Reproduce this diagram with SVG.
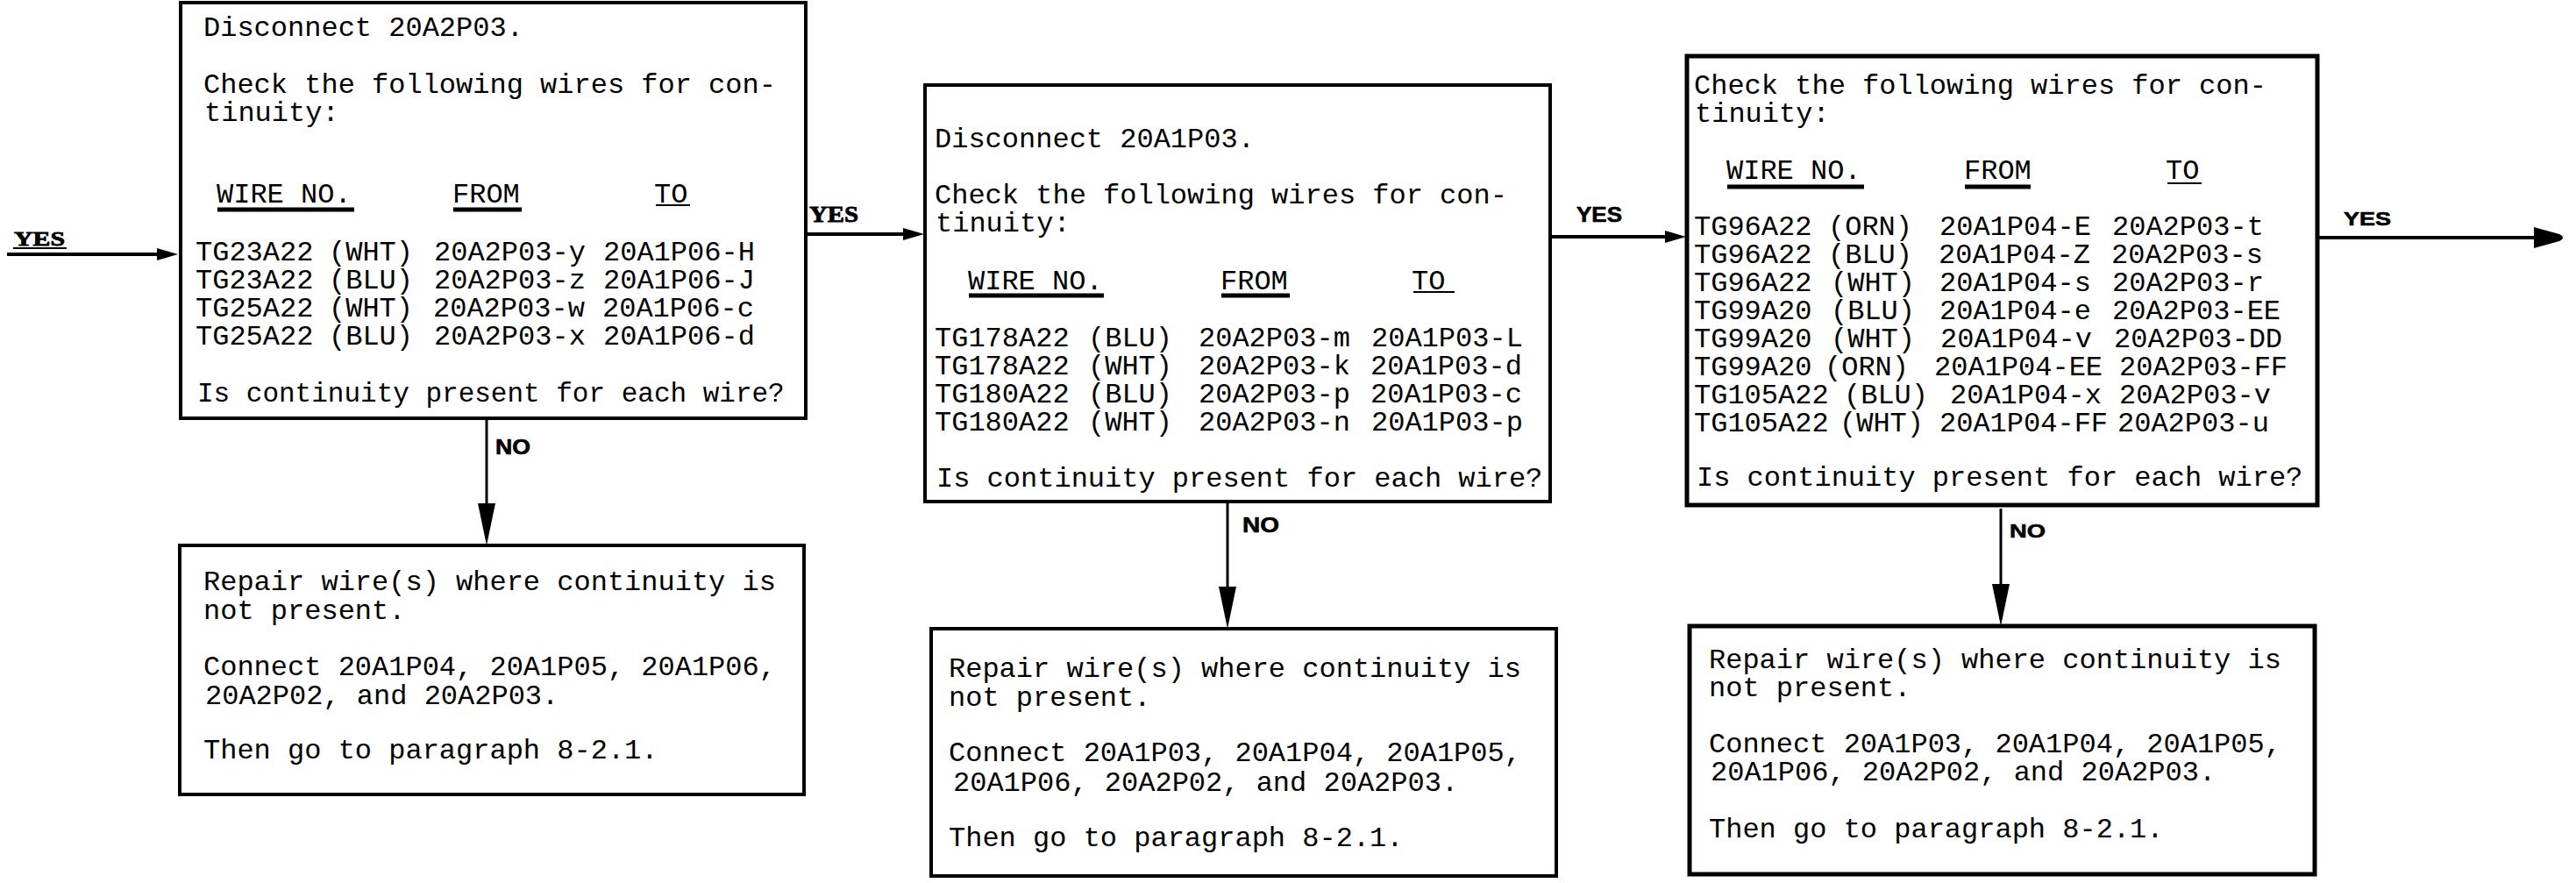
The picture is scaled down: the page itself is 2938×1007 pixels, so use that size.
<svg xmlns="http://www.w3.org/2000/svg" width="2938" height="1007" viewBox="0 0 2938 1007">
<style>
  .bg { fill: #ffffff; }
  .box { fill: #ffffff; stroke: #000000; stroke-width: 4; }
  .boxb { fill: #ffffff; stroke: #000000; stroke-width: 5; }
  .m { font-family: "Liberation Mono", "Courier New", monospace; font-size: 32px; fill: #000000; }
  .ul { stroke: #000000; stroke-width: 5; }
  .ult { stroke: #000000; stroke-width: 2; }
  .conn { fill: none; stroke: #000000; stroke-width: 4; }
  .ys { font-family: "Liberation Serif", "Times New Roman", serif; font-weight: bold; fill: #000000; stroke: #000000; stroke-width: 0.8; }
  .ls { font-family: "Liberation Sans", Arial, sans-serif; font-weight: bold; fill: #000000; stroke: #000000; stroke-width: 0.6; }
</style>
<defs>
  <marker id="ahYes" markerUnits="userSpaceOnUse" markerWidth="30" markerHeight="20" refX="16" refY="7" orient="auto">
    <path d="M0,0 L24,7 L0,14 Z" fill="#000000"/>
  </marker>
  <marker id="ahNo" markerUnits="userSpaceOnUse" markerWidth="50" markerHeight="22" refX="40" refY="10" orient="auto">
    <path d="M0,0 L48,10 L0,20 Z" fill="#000000"/>
  </marker>
  <marker id="ahRound" markerUnits="userSpaceOnUse" markerWidth="42" markerHeight="28" refX="8" refY="12" orient="auto">
    <path d="M0,0 L29,8 Q37,12 29,16 L0,24 Z" fill="#000000"/>
  </marker>
</defs>
<rect class="bg" x="0" y="0" width="2938" height="1007"/>

<g id="connectors">
  <g id="c-entry">
    <line class="conn" x1="8" y1="290" x2="195" y2="290" marker-end="url(#ahYes)"/>
    <text class="ys" x="16" y="280" font-size="23" textLength="58" lengthAdjust="spacingAndGlyphs">YES</text>
    <line class="ult" x1="15" y1="283" x2="76" y2="283"/>
  </g>
  <g id="c-b1-b3">
    <line class="conn" x1="920" y1="267" x2="1046" y2="267" marker-end="url(#ahYes)"/>
    <text class="ys" x="923" y="253" font-size="25" textLength="56" lengthAdjust="spacingAndGlyphs">YES</text>
  </g>
  <g id="c-b3-b5">
    <line class="conn" x1="1770" y1="270" x2="1915" y2="270" marker-end="url(#ahYes)"/>
    <text class="ls" x="1798" y="253" font-size="23" textLength="52" lengthAdjust="spacingAndGlyphs">YES</text>
  </g>
  <g id="c-exit">
    <line class="conn" x1="2645" y1="271" x2="2898" y2="271" marker-end="url(#ahRound)"/>
    <text class="ls" x="2673" y="257" font-size="22" textLength="54" lengthAdjust="spacingAndGlyphs">YES</text>
  </g>
  <g id="c-b1-b2">
    <line class="conn" x1="555" y1="478" x2="555" y2="614" marker-end="url(#ahNo)" style="stroke-width:3"/>
    <text class="ls" x="565" y="518" font-size="23" textLength="40" lengthAdjust="spacingAndGlyphs">NO</text>
  </g>
  <g id="c-b3-b4">
    <line class="conn" x1="1400" y1="573" x2="1400" y2="709" marker-end="url(#ahNo)" style="stroke-width:3"/>
    <text class="ls" x="1417" y="607" font-size="24" textLength="42" lengthAdjust="spacingAndGlyphs">NO</text>
  </g>
  <g id="c-b5-b6">
    <line class="conn" x1="2282" y1="580" x2="2282" y2="706" marker-end="url(#ahNo)" style="stroke-width:3"/>
    <text class="ls" x="2292" y="613" font-size="22" textLength="41" lengthAdjust="spacingAndGlyphs">NO</text>
  </g>
</g>

<g id="b1">
  <rect class="box" x="206" y="3" width="713" height="474"/>
  <text class="m" x="232" y="41">Disconnect 20A2P03.</text>
  <text class="m" x="232" y="106">Check the following wires for con-</text>
  <text class="m" x="233" y="138">tinuity:</text>
  <text class="m" y="231"><tspan x="247">WIRE NO.</tspan><tspan x="516">FROM</tspan><tspan x="746">TO</tspan></text>
  <line class="ul" x1="248" y1="239" x2="404" y2="239"/>
  <line class="ul" x1="517" y1="239" x2="595" y2="239"/>
  <line class="ult" x1="748" y1="234" x2="787" y2="234"/>
  <text class="m" y="297"><tspan x="223">TG23A22</tspan><tspan x="375">(WHT)</tspan><tspan x="495">20A2P03-y</tspan><tspan x="688">20A1P06-H</tspan></text>
  <text class="m" y="329"><tspan x="223">TG23A22</tspan><tspan x="375">(BLU)</tspan><tspan x="495">20A2P03-z</tspan><tspan x="688">20A1P06-J</tspan></text>
  <text class="m" y="361"><tspan x="223">TG25A22</tspan><tspan x="375">(WHT)</tspan><tspan x="494">20A2P03-w</tspan><tspan x="687">20A1P06-c</tspan></text>
  <text class="m" y="393"><tspan x="223">TG25A22</tspan><tspan x="375">(BLU)</tspan><tspan x="495">20A2P03-x</tspan><tspan x="688">20A1P06-d</tspan></text>
  <text class="m" x="225" y="458" style="font-size:31px">Is continuity present for each wire?</text>
</g>

<g id="b2">
  <rect class="box" x="205" y="622" width="712" height="284"/>
  <text class="m" x="232" y="673">Repair wire(s) where continuity is</text>
  <text class="m" x="232" y="706">not present.</text>
  <text class="m" x="232" y="770">Connect 20A1P04, 20A1P05, 20A1P06,</text>
  <text class="m" x="234" y="803">20A2P02, and 20A2P03.</text>
  <text class="m" x="232" y="865">Then go to paragraph 8-2.1.</text>
</g>

<g id="b3">
  <rect class="box" x="1055" y="97" width="713" height="475"/>
  <text class="m" x="1066" y="168">Disconnect 20A1P03.</text>
  <text class="m" x="1066" y="232">Check the following wires for con-</text>
  <text class="m" x="1067" y="264">tinuity:</text>
  <text class="m" y="330"><tspan x="1104">WIRE NO.</tspan><tspan x="1392">FROM</tspan><tspan x="1610">TO</tspan></text>
  <line class="ul" x1="1105" y1="337" x2="1259" y2="337"/>
  <line class="ul" x1="1393" y1="337" x2="1471" y2="337"/>
  <line class="ult" x1="1612" y1="333" x2="1659" y2="333"/>
  <text class="m" y="395"><tspan x="1066">TG178A22</tspan><tspan x="1241">(BLU)</tspan><tspan x="1367">20A2P03-m</tspan><tspan x="1564">20A1P03-L</tspan></text>
  <text class="m" y="427"><tspan x="1066">TG178A22</tspan><tspan x="1241">(WHT)</tspan><tspan x="1367">20A2P03-k</tspan><tspan x="1563">20A1P03-d</tspan></text>
  <text class="m" y="459"><tspan x="1066">TG180A22</tspan><tspan x="1241">(BLU)</tspan><tspan x="1367">20A2P03-p</tspan><tspan x="1563">20A1P03-c</tspan></text>
  <text class="m" y="491"><tspan x="1066">TG180A22</tspan><tspan x="1241">(WHT)</tspan><tspan x="1367">20A2P03-n</tspan><tspan x="1564">20A1P03-p</tspan></text>
  <text class="m" x="1068" y="555">Is continuity present for each wire?</text>
</g>

<g id="b4">
  <rect class="box" x="1062" y="717" width="713" height="282"/>
  <text class="m" x="1082" y="772">Repair wire(s) where continuity is</text>
  <text class="m" x="1082" y="805">not present.</text>
  <text class="m" x="1082" y="868">Connect 20A1P03, 20A1P04, 20A1P05,</text>
  <text class="m" x="1087" y="902">20A1P06, 20A2P02, and 20A2P03.</text>
  <text class="m" x="1082" y="965">Then go to paragraph 8-2.1.</text>
</g>

<g id="b5">
  <rect class="boxb" x="1924" y="64" width="719" height="512"/>
  <text class="m" x="1932" y="107">Check the following wires for con-</text>
  <text class="m" x="1933" y="139">tinuity:</text>
  <text class="m" y="204"><tspan x="1969">WIRE NO.</tspan><tspan x="2240">FROM</tspan><tspan x="2470">TO</tspan></text>
  <line class="ul" x1="1970" y1="213" x2="2126" y2="213"/>
  <line class="ul" x1="2241" y1="213" x2="2316" y2="213"/>
  <line class="ult" x1="2472" y1="209" x2="2511" y2="209"/>
  <text class="m" y="268"><tspan x="1932">TG96A22</tspan><tspan x="2085">(ORN)</tspan><tspan x="2212">20A1P04-E</tspan><tspan x="2409">20A2P03-t</tspan></text>
  <text class="m" y="300"><tspan x="1932">TG96A22</tspan><tspan x="2085">(BLU)</tspan><tspan x="2211">20A1P04-Z</tspan><tspan x="2408">20A2P03-s</tspan></text>
  <text class="m" y="332"><tspan x="1932">TG96A22</tspan><tspan x="2088">(WHT)</tspan><tspan x="2212">20A1P04-s</tspan><tspan x="2409">20A2P03-r</tspan></text>
  <text class="m" y="364"><tspan x="1932">TG99A20</tspan><tspan x="2088">(BLU)</tspan><tspan x="2212">20A1P04-e</tspan><tspan x="2409">20A2P03-EE</tspan></text>
  <text class="m" y="396"><tspan x="1932">TG99A20</tspan><tspan x="2088">(WHT)</tspan><tspan x="2213">20A1P04-v</tspan><tspan x="2411">20A2P03-DD</tspan></text>
  <text class="m" y="428"><tspan x="1932">TG99A20</tspan><tspan x="2081">(ORN)</tspan><tspan x="2206">20A1P04-EE</tspan><tspan x="2417">20A2P03-FF</tspan></text>
  <text class="m" y="460"><tspan x="1932">TG105A22</tspan><tspan x="2103">(BLU)</tspan><tspan x="2224">20A1P04-x</tspan><tspan x="2417">20A2P03-v</tspan></text>
  <text class="m" y="492"><tspan x="1932">TG105A22</tspan><tspan x="2098">(WHT)</tspan><tspan x="2212">20A1P04-FF</tspan><tspan x="2415">20A2P03-u</tspan></text>
  <text class="m" x="1935" y="554">Is continuity present for each wire?</text>
</g>

<g id="b6">
  <rect class="boxb" x="1927" y="714" width="713" height="283"/>
  <text class="m" x="1949" y="762">Repair wire(s) where continuity is</text>
  <text class="m" x="1949" y="794">not present.</text>
  <text class="m" x="1949" y="858">Connect 20A1P03, 20A1P04, 20A1P05,</text>
  <text class="m" x="1951" y="890">20A1P06, 20A2P02, and 20A2P03.</text>
  <text class="m" x="1949" y="955">Then go to paragraph 8-2.1.</text>
</g>
</svg>
